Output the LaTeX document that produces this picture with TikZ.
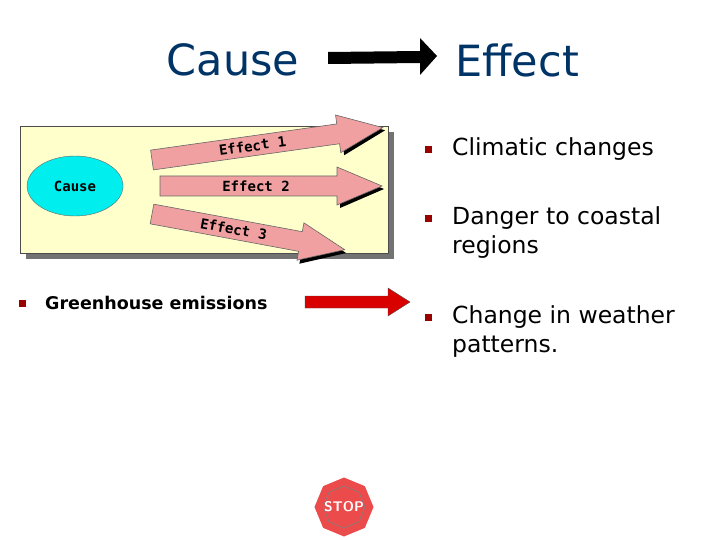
\documentclass[tikz,border=0pt]{standalone}
\usepackage{fontspec}
\setmainfont{DejaVu Sans}
\setmonofont{DejaVu Sans Mono}
\usetikzlibrary{shapes.geometric}
\definecolor{titleblue}{RGB}{0,51,102}
\definecolor{bulletred}{RGB}{153,0,0}
\definecolor{clipyellow}{RGB}{255,255,204}
\definecolor{pinkfill}{RGB}{240,160,160}
\definecolor{clipcyan}{RGB}{0,238,238}
\definecolor{stopred}{RGB}{235,75,75}
\tikzset{
  title/.style={text=titleblue,font=\fontsize{43}{46}\selectfont,inner sep=0pt},
  bullet/.style={fill=bulletred,minimum size=7pt,inner sep=0pt},
  item/.style={anchor=west,font=\fontsize{23.5}{29}\selectfont,align=left,inner sep=0pt},
  pink/.style={fill=pinkfill,draw=black!60,line width=0.6pt},
}
\newcommand{\pinkarrow}[5]{%
 \begin{scope}[shift={(#1,#2)},rotate=#3]
  \fill[black] (2,7) -- (#4-42,7) -- (#4-42,22) -- (#4+2,3) -- (#4-42,-15) -- (#4-42,-7) -- (2,-7) -- cycle;
  \draw[pink] (0,10) -- (#4-45,10) -- (#4-45,19) -- (#4,0) -- (#4-45,-19) -- (#4-45,-10) -- (0,-10) -- cycle;
  \node[font=\ttfamily\bfseries\fontsize{14}{15}\selectfont,rotate=#3] at (#4/2-15,0) {#5};
 \end{scope}}
\begin{document}
\begin{tikzpicture}[x=1pt,y=-1pt]
\useasboundingbox (0,0) rectangle (720,540);
\node[title] (cause) at (233,60) {Cause};
\node[title] (effect) at (517,60) {Effect};
\fill[black] (328,52) -- (420,51) -- (420,38) -- (437,56) -- (420,75) -- (420,63) -- (328,64) -- cycle;
% clipart
\fill[black!55] (26,132) rectangle (394,259);
\draw[fill=clipyellow,draw=black!70] (20,126) rectangle (388,253);
\node[draw=black!60,fill=clipcyan,ellipse,minimum width=96pt,minimum height=60pt,font=\ttfamily\bfseries\fontsize{14}{15}\selectfont] (ccause) at (75,186) {Cause};
\pinkarrow{152}{160}{8}{233}{Effect 1}
\pinkarrow{160}{186}{0}{222}{Effect 2}
\pinkarrow{152}{214}{-10.5}{196}{Effect 3}
% bullets
\node[bullet] (b1) at (428,150) {};
\node[item] (t1) at (452,149) {Climatic changes};
\node[bullet] (b2) at (428,219) {};
\node[item,anchor=north west] (t2) at (452,206) {Danger to coastal\\regions};
\node[bullet] (b3) at (428,317) {};
\node[item,anchor=north west] (t3) at (452,305) {Change in weather\\patterns.};
\node[bullet] (b0) at (22,303) {};
\node[item,font=\bfseries\fontsize{17.5}{20}\selectfont] (t0) at (45,303) {Greenhouse emissions};
% red arrow
\draw[fill=red!85!black,draw=black!70] (305,296) -- (388,296) -- (388,288) -- (410,302) -- (388,316) -- (388,308) -- (305,308) -- cycle;
% stop
\node[regular polygon,regular polygon sides=8,shape border rotate=22.5,minimum size=40pt,fill=stopred,draw=white,line width=1.5pt,text=white,font=\sffamily\bfseries\fontsize{14}{15}\selectfont,inner sep=0pt] (stop) at (344,507) {STOP};
\node[regular polygon,regular polygon sides=8,shape border rotate=22.5,minimum size=42pt,draw=black!50,line width=0.6pt] at (344,507) {};
\end{tikzpicture}
\end{document}
